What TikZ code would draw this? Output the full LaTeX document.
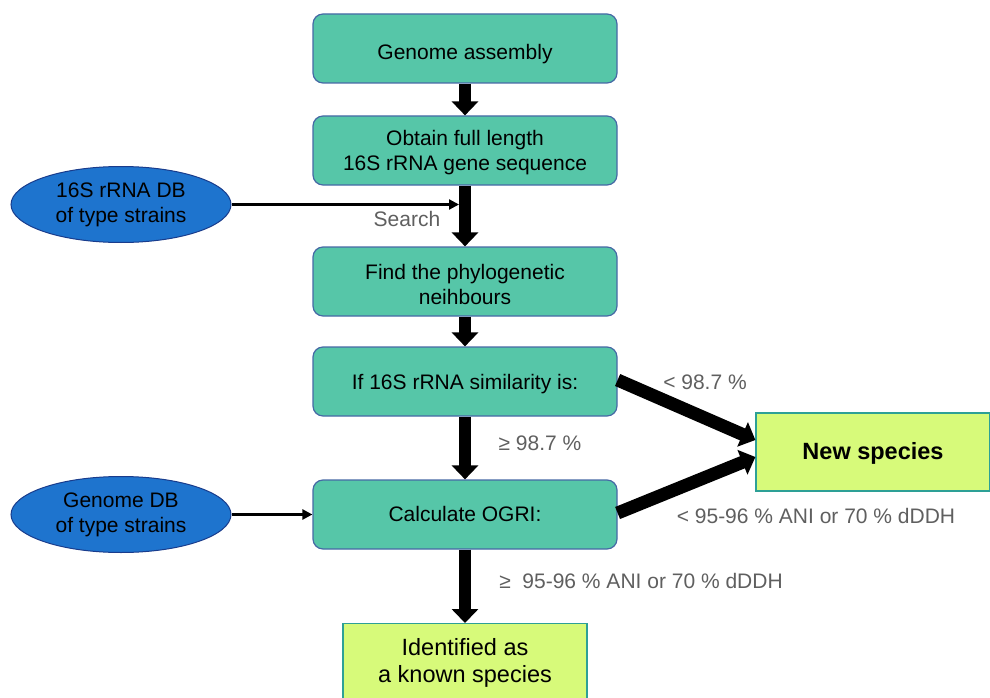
\documentclass[tikz,border=0pt]{standalone}
\usepackage{fontspec}
\setmainfont{Liberation Sans}
\usetikzlibrary{arrows.meta,shapes.geometric}
\definecolor{tealfill}{RGB}{86,198,168}
\definecolor{tealedge}{RGB}{70,105,165}
\definecolor{bluefill}{RGB}{30,116,206}
\definecolor{blueedge}{RGB}{25,60,140}
\definecolor{limefill}{RGB}{215,250,122}
\definecolor{limeedge}{RGB}{45,160,150}
\definecolor{labgray}{RGB}{95,95,95}
\newcommand{\boxtxt}[2]{\raisebox{#1}[0pt][0pt]{\begin{tabular}[t]{@{}c@{}}#2\end{tabular}}}
\tikzset{
  stepbox/.style={draw=tealedge, fill=tealfill, line width=1.2pt, rounded corners=10pt,
    minimum width=304pt, minimum height=69pt, inner sep=0pt,
    font=\fontsize{21}{25}\selectfont},
  dbell/.style={ellipse, draw=blueedge, fill=bluefill, line width=1pt,
    minimum width=220pt, minimum height=76pt, align=center, inner sep=0pt,
    font=\fontsize{21}{25}\selectfont},
  resbox/.style={draw=limeedge, fill=limefill, line width=1.2pt, inner sep=0pt},
  bigarrow/.style={line width=12.5pt, -{Triangle[width=26pt,length=14pt]}},
  thinarrow/.style={line width=2.3pt, -{Triangle[width=10pt,length=10pt]}},
  lab/.style={text=labgray, font=\fontsize{21}{25}\selectfont, inner sep=0pt}
}
\begin{document}
\begin{tikzpicture}[x=1pt,y=-1pt]
\useasboundingbox (0,0) rectangle (990,698);
\node[stepbox] (ga) at (465,48.5) {\boxtxt{-11.5pt}{Genome assembly}};
\node[stepbox] (ob) at (465,150.5) {\boxtxt{4.8pt}{Obtain full length\\16S rRNA gene sequence}};
\node[stepbox] (fp) at (465,281.5) {\boxtxt{2.5pt}{Find the phylogenetic\\neihbours}};
\node[stepbox] (if) at (465,381.5) {\boxtxt{-7.5pt}{If 16S rRNA similarity is:}};
\node[stepbox] (og) at (465,514.5) {\boxtxt{-6.5pt}{Calculate OGRI:}};
\node[resbox, minimum width=234pt, minimum height=78pt, font=\bfseries\fontsize{23.5}{28}\selectfont] (ns) at (873,452) {\boxtxt{-7pt}{New species}};
\node[resbox, minimum width=244pt, minimum height=95pt, font=\fontsize{23.5}{26.7}\selectfont, anchor=north] (ks) at (465,623) {\boxtxt{15.5pt}{Identified as\\a known species}};
\node[dbell] (db1) at (121,204.5) {16S rRNA DB\\of type strains};
\node[dbell] (db2) at (121,514.5) {Genome DB\\of type strains};
\coordinate (hit) at (459,204.5);
\draw[bigarrow] (ga.south) -- (ob.north);
\draw[bigarrow] (ob.south) -- (fp.north);
\draw[bigarrow] (fp.south) -- (if.north);
\draw[bigarrow] (if.south) -- (og.north);
\draw[bigarrow] (og.south) -- (ks.north);
\draw[bigarrow, line width=13pt] (if.east |- 0,380) -- (ns.west |- 0,440);
\draw[bigarrow, line width=13pt] (og.east |- 0,513) -- (ns.west |- 0,457);
\draw[thinarrow] (db1.east) -- (hit);
\draw[thinarrow] (db2.east) -- (og.west);
\node[lab] (l1) at (407,219) {Search};
\node[lab] (l2) at (705,382) {< 98.7 \%};
\node[lab] (l3) at (540,443) {≥ 98.7 \%};
\node[lab] (l4) at (816,516) {< 95-96 \% ANI or 70 \% dDDH};
\node[lab] (l5) at (641,581) {≥~ 95-96 \% ANI or 70 \% dDDH};
\end{tikzpicture}
\end{document}
